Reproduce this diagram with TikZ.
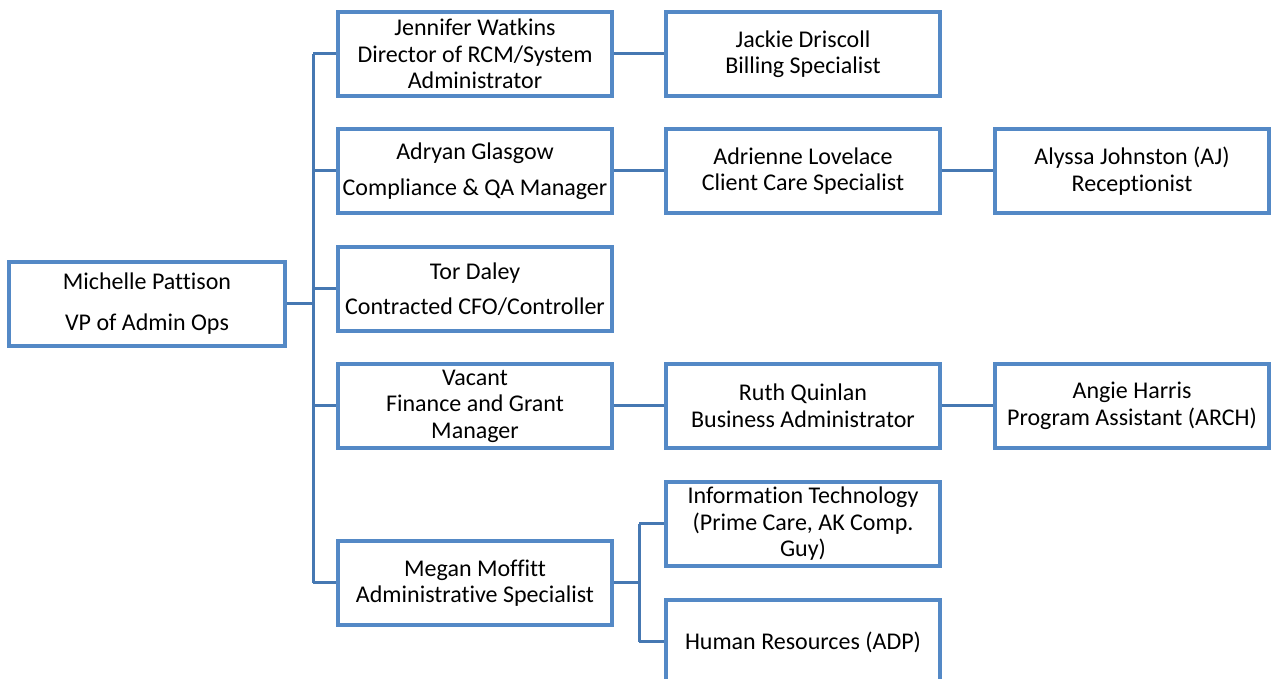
\documentclass[tikz,border=0pt]{standalone}
\usepackage{fontspec}
\setmainfont{Carlito}[Ligatures=NoCommon]
\usetikzlibrary{calc}
\definecolor{boxblue}{RGB}{84,137,198}
\definecolor{lineblue}{RGB}{70,120,178}
\tikzset{
 staff/.style={draw=boxblue, line width=3.3pt, fill=white, minimum width=274pt, minimum height=84pt,
   inner sep=2pt, align=center, font=\fontsize{24}{26.5}\selectfont},
 link/.style={draw=lineblue, line width=3pt}
}

\begin{document}
\begin{tikzpicture}[x=1pt,y=1pt]
\useasboundingbox (0,0) rectangle (1275,679);
% head of department
\node[staff, minimum width=276pt] (vp) at (147,375) {Michelle Pattison\\[14.5pt]VP of Admin Ops};
% first column
\node[staff] (jw) at (475,625) {Jennifer Watkins\\Director of RCM/System\\Administrator};
\node[staff] (ag) at (475,508) {Adryan Glasgow\\[9pt]Compliance \& QA Manager};
\node[staff] (td) at (475,390) {Tor Daley\\[9pt]Contracted CFO/Controller};
\node[staff] (fg) at (475,273) {Vacant\\Finance and Grant\\Manager};
\node[staff] (mm) at (475,96) {Megan Moffitt\\Administrative Specialist};
% second column
\node[staff] (jd) at (803,625) {Jackie Driscoll\\Billing Specialist};
\node[staff] (al) at (803,508) {Adrienne Lovelace\\Client Care Specialist};
\node[staff] (rq) at (803,273) {Ruth Quinlan\\Business Administrator};
\node[staff] (it) at (803,155) {Information Technology\\(Prime Care, AK Comp.\\Guy)};
\node[staff] (hr) at (803,37) {Human Resources (ADP)};
% third column
\node[staff] (aj) at (1132,508) {Alyssa Johnston (AJ)\\Receptionist};
\node[staff] (ah) at (1132,273) {Angie Harris\\Program Assistant (ARCH)};

% trunk
\coordinate (trunk) at (313,0);
\draw[link] (vp.east) -- (vp.east -| trunk);
\draw[link] (jw.west -| trunk) -- (mm.west -| trunk);
\foreach \n in {jw,ag,td,fg,mm}
 \draw[link] (\n.west -| trunk) -- (\n.west);
% side links
\draw[link] (jw) -- (jd);
\draw[link] (ag) -- (al);
\draw[link] (al) -- (aj);
\draw[link] (fg) -- (rq);
\draw[link] (rq) -- (ah);
% support branch
\coordinate (fork) at (639,0);
\draw[link] (mm.east) -- (mm.east -| fork);
\draw[link] (it.west -| fork) -- (hr.west -| fork);
\foreach \n in {it,hr}
 \draw[link] (\n.west -| fork) -- (\n.west);
\end{tikzpicture}
\end{document}
